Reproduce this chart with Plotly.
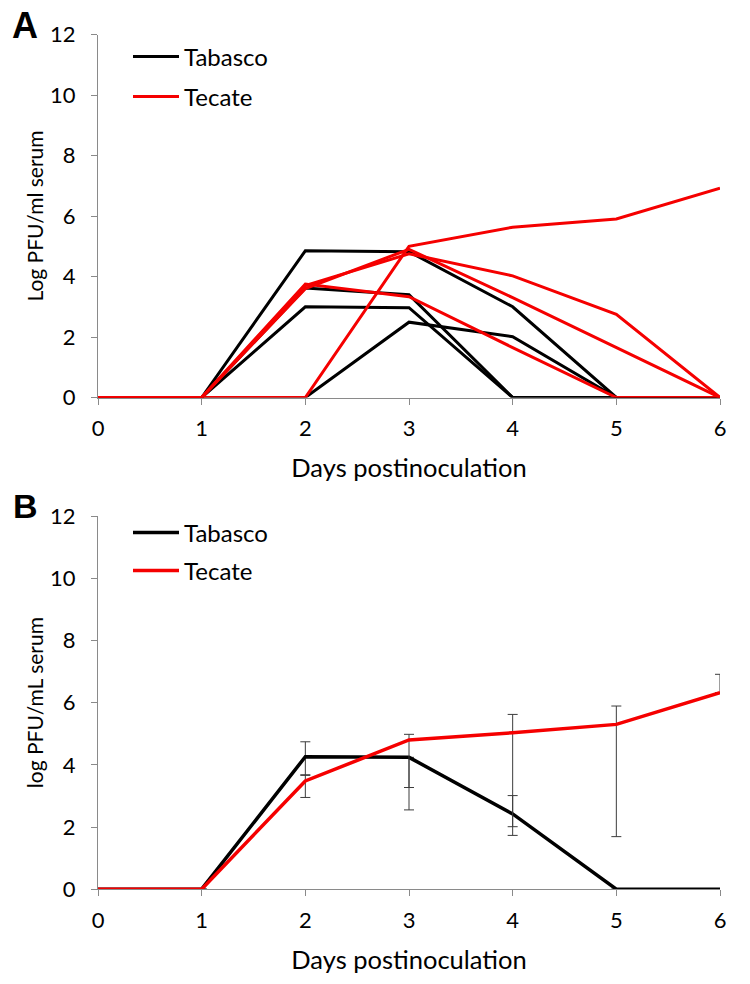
import plotly.graph_objects as go

days = [0, 1, 2, 3, 4, 5, 6]
x_ticks = [0, 1, 2, 3, 4, 5, 6]
y_ticks = [0, 2, 4, 6, 8, 10, 12]

# Panel A: individual animals
tabasco_a = [
    [0, 0, 4.85, 4.82, 3.00, 0, 0],
    [0, 0, 3.62, 3.40, 0, 0, 0],
    [0, 0, 3.00, 2.97, 0, 0, 0],
    [0, 0, 0, 2.49, 2.01, 0, 0],
]
tecate_a = [
    [0, 0, 0, 5.00, 5.63, 5.90, 6.92],
    [0, 0, 3.70, 4.75, 4.02, 2.75, 0],
    [0, 0, 3.60, 4.90, 3.30, 1.65, 0],
    [0, 0, 3.75, 3.33, 1.65, 0, 0],
]

# Panel B: means with error bars
tabasco_b = [0, 0, 4.26, 4.24, 2.42, 0, 0]
tabasco_b_plus = [None, None, 0.48, None, 0.59, None, None]
tabasco_b_minus = [None, None, 0.60, 1.69, 0.69, None, None]
tecate_b = [0, 0, 3.48, 4.80, 5.03, 5.30, 6.32]
tecate_b_plus = [None, None, 0.20, 0.18, 0.59, 0.59, 0.59]
tecate_b_minus = [None, None, 0.53, 1.53, 3.02, 3.61, 0]

BLACK = "#000000"
RED = "#f50000"
AXIS = "#8a8a8a"
FONT = "Lato"

fig = go.Figure()

for i, ys in enumerate(tabasco_a):
    fig.add_trace(go.Scatter(x=days, y=ys, mode="lines", line=dict(color=BLACK, width=3),
                             name="Tabasco", showlegend=(i == 0), legend="legend",
                             xaxis="x", yaxis="y"))
for i, ys in enumerate(tecate_a):
    fig.add_trace(go.Scatter(x=days, y=ys, mode="lines", line=dict(color=RED, width=3),
                             name="Tecate", showlegend=(i == 0), legend="legend2",
                             xaxis="x", yaxis="y"))

err_style = dict(type="data", symmetric=False, color="#3c3c3c", thickness=1, width=5)
fig.add_trace(go.Scatter(x=days, y=tabasco_b, mode="lines", line=dict(color=BLACK, width=3.5),
                         name="Tabasco", legend="legend3", xaxis="x2", yaxis="y2",
                         error_y=dict(array=tabasco_b_plus, arrayminus=tabasco_b_minus, **err_style)))
fig.add_trace(go.Scatter(x=days, y=tecate_b, mode="lines", line=dict(color=RED, width=3.5),
                         name="Tecate", legend="legend4", xaxis="x2", yaxis="y2",
                         error_y=dict(array=tecate_b_plus, arrayminus=tecate_b_minus, **err_style)))

W, H = 750, 984
xl, xr = 98, 720
a_top, a_bot = 34.5, 397.5
b_top, b_bot = 516, 889.2

def py(p):
    return 1 - p / H

xdom = [xl / W, xr / W]
xaxis_style = dict(range=[0, 6], tickvals=x_ticks, showline=True, linecolor=AXIS, linewidth=1.3,
                   ticks="outside", ticklen=6, tickcolor=AXIS, tickwidth=1.3, showgrid=False,
                   zeroline=False, tickfont=dict(family=FONT, size=22, color="black"),
                   ticklabelstandoff=5, automargin=False)
yaxis_style = dict(range=[0, 12], tickvals=y_ticks, showline=True, linecolor=AXIS, linewidth=1.3,
                   ticks="outside", ticklen=6, tickcolor=AXIS, tickwidth=1.3, showgrid=False,
                   zeroline=False, tickfont=dict(family=FONT, size=22, color="black"),
                   ticklabelstandoff=11, automargin=False)

legend_common = dict(font=dict(family=FONT, size=24, color="black"), bgcolor="rgba(0,0,0,0)",
                     borderwidth=0, xanchor="left", yanchor="middle", itemwidth=46,
                     xref="paper", yref="paper")

fig.update_layout(
    width=W, height=H, margin=dict(l=0, r=0, t=0, b=0, autoexpand=False),
    paper_bgcolor="white", plot_bgcolor="white",
    font=dict(family=FONT, color="black"),
    xaxis=dict(domain=xdom, anchor="y",
               title=dict(text="Days postinoculation", font=dict(family=FONT, size=25.5), standoff=19),
               **xaxis_style),
    yaxis=dict(domain=[py(a_bot), py(a_top)], anchor="x",
               title=dict(text="Log PFU/ml serum", font=dict(family=FONT, size=21), standoff=0),
               **yaxis_style),
    xaxis2=dict(domain=xdom, anchor="y2",
                title=dict(text="Days postinoculation", font=dict(family=FONT, size=25.5), standoff=19),
                **xaxis_style),
    yaxis2=dict(domain=[py(b_bot), py(b_top)], anchor="x2",
                title=dict(text="log PFU/mL serum", font=dict(family=FONT, size=21), standoff=0),
                **yaxis_style),
    legend=dict(x=128 / W, y=py(57), **legend_common),
    legend2=dict(x=128 / W, y=py(97), **legend_common),
    legend3=dict(x=128 / W, y=py(533), **legend_common),
    legend4=dict(x=128 / W, y=py(571), **legend_common),
    showlegend=True,
    annotations=[
        dict(text="<b>A</b>", x=25 / W, y=py(26), xref="paper", yref="paper", showarrow=False,
             xanchor="center", yanchor="middle",
             font=dict(family="Liberation Sans", size=36, color="black")),
        dict(text="<b>B</b>", x=25 / W, y=py(506), xref="paper", yref="paper", showarrow=False,
             xanchor="center", yanchor="middle",
             font=dict(family="Liberation Sans", size=34, color="black")),
    ],
)

fig.write_html("out.html", config={"displayModeBar": False},
               post_script="document.body.style.margin='0';")
